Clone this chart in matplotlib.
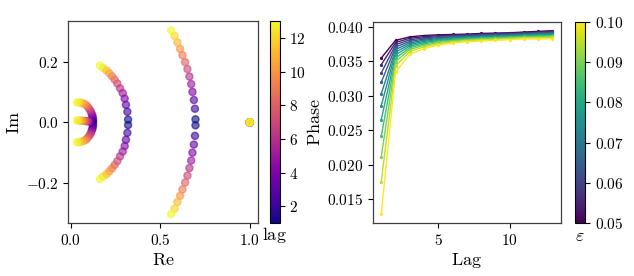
import numpy as np
import matplotlib
matplotlib.use("Agg")
import matplotlib.pyplot as plt
from matplotlib.ticker import FormatStrFormatter, FixedLocator

plt.rcParams['mathtext.fontset'] = 'cm'
plt.rcParams['font.family'] = 'serif'
plt.rcParams['font.size'] = 11
LABEL_SIZE = 13

### Data #######################################################################
lags = np.arange(1, 14)

# eigenvalues, upper half (conjugates mirrored), one per lag 1..13
outer_re = [0.697, 0.694, 0.688, 0.680, 0.673, 0.663, 0.652, 0.639, 0.624, 0.611, 0.596, 0.580, 0.561]
outer_im = [0.010, 0.045, 0.074, 0.101, 0.127, 0.152, 0.177, 0.200, 0.223, 0.244, 0.265, 0.287, 0.305]
middle_re = [0.320, 0.316, 0.308, 0.301, 0.290, 0.275, 0.260, 0.245, 0.230, 0.215, 0.200, 0.181, 0.163]
middle_im = [0.009, 0.035, 0.058, 0.079, 0.097, 0.113, 0.129, 0.142, 0.153, 0.163, 0.172, 0.180, 0.188]
inner_re = [0.124, 0.124, 0.122, 0.119, 0.115, 0.110, 0.104, 0.095, 0.086, 0.075, 0.062, 0.048, 0.034]
inner_im = [0.004, 0.011, 0.018, 0.024, 0.031, 0.038, 0.044, 0.051, 0.057, 0.061, 0.064, 0.066, 0.066]
spine_re = [0.120, 0.116, 0.111, 0.106, 0.100, 0.094, 0.087, 0.080, 0.072, 0.064, 0.055, 0.045, 0.034]
spine_im = [0.002, 0.002, 0.003, 0.003, 0.003, 0.004, 0.004, 0.004, 0.005, 0.005, 0.005, 0.006, 0.006]
unit_re = [1.0] * 13
unit_im = [0.0] * 13

# phase vs lag, one row per lag, one column per epsilon
epsilons = [0.050, 0.055, 0.060, 0.065, 0.070, 0.075, 0.080, 0.085, 0.090, 0.095, 0.100]
phase_by_lag = [
    [0.03544, 0.03448, 0.03328, 0.03194, 0.03026, 0.02853, 0.02652, 0.02412, 0.02114, 0.01754, 0.01284],
    [0.03800, 0.03768, 0.03736, 0.03703, 0.03667, 0.03630, 0.03588, 0.03542, 0.03492, 0.03427, 0.03340],
    [0.03850, 0.03830, 0.03808, 0.03785, 0.03763, 0.03740, 0.03718, 0.03693, 0.03668, 0.03638, 0.03600],
    [0.03870, 0.03853, 0.03836, 0.03819, 0.03802, 0.03785, 0.03766, 0.03748, 0.03729, 0.03707, 0.03680],
    [0.03880, 0.03867, 0.03853, 0.03840, 0.03826, 0.03813, 0.03798, 0.03784, 0.03769, 0.03751, 0.03730],
    [0.03885, 0.03874, 0.03862, 0.03851, 0.03840, 0.03829, 0.03816, 0.03805, 0.03793, 0.03778, 0.03760],
    [0.03890, 0.03880, 0.03870, 0.03860, 0.03850, 0.03841, 0.03830, 0.03820, 0.03809, 0.03795, 0.03780],
    [0.03900, 0.03890, 0.03880, 0.03870, 0.03860, 0.03851, 0.03840, 0.03830, 0.03819, 0.03805, 0.03790],
    [0.03905, 0.03896, 0.03886, 0.03877, 0.03867, 0.03858, 0.03847, 0.03838, 0.03827, 0.03815, 0.03800],
    [0.03910, 0.03901, 0.03892, 0.03883, 0.03874, 0.03865, 0.03855, 0.03846, 0.03836, 0.03824, 0.03810],
    [0.03920, 0.03911, 0.03902, 0.03893, 0.03884, 0.03875, 0.03865, 0.03856, 0.03846, 0.03834, 0.03820],
    [0.03930, 0.03920, 0.03910, 0.03900, 0.03891, 0.03881, 0.03870, 0.03860, 0.03850, 0.03837, 0.03820],
    [0.03940, 0.03930, 0.03919, 0.03909, 0.03899, 0.03889, 0.03877, 0.03867, 0.03856, 0.03842, 0.03825],
]

### Figure #####################################################################
W, H = 634, 276
fig = plt.figure(figsize=(W / 100, H / 100), dpi=100)

def box(x0, x1, y0, y1):
    # pixel box (from top-left) -> figure fraction
    return [x0 / W, 1 - y1 / H, (x1 - x0) / W, (y1 - y0) / H]

ax1 = fig.add_axes(box(68.3, 258.3, 21.3, 223.3))
cax1 = fig.add_axes(box(270, 279.5, 21.3, 223.3))
ax2 = fig.add_axes(box(372.7, 561, 21.5, 223.3))
cax2 = fig.add_axes(box(575, 585, 21.5, 223.3))

# left: eigenvalues coloured by lag
re_all, im_all, lag_all = [], [], []
for re, im in [(outer_re, outer_im), (middle_re, middle_im), (inner_re, inner_im)]:
    for sign in (1, -1):
        re_all += list(re)
        im_all += [sign * v for v in im]
        lag_all += list(lags)
re_all += spine_re + unit_re
im_all += spine_im + unit_im
lag_all += list(lags) + list(lags)
re_all, im_all, lag_all = np.array(re_all), np.array(im_all), np.array(lag_all)
order = np.argsort(lag_all, kind='stable')

sc = ax1.scatter(re_all[order], im_all[order], c=lag_all[order], cmap='plasma',
                 vmin=1, vmax=13, s=26, alpha=0.6)
ax1.set_xlabel(r'$\mathrm{Re}$', fontsize=LABEL_SIZE, labelpad=2)
ax1.set_ylabel(r'$\mathrm{Im}$', fontsize=LABEL_SIZE, labelpad=2)
ax1.xaxis.set_major_locator(FixedLocator([0.0, 0.5, 1.0]))
ax1.yaxis.set_major_locator(FixedLocator([-0.2, 0.0, 0.2]))
ax1.xaxis.set_major_formatter(FormatStrFormatter(r'$%.1f$'))
ax1.yaxis.set_major_formatter(FormatStrFormatter(r'$%.1f$'))

cb1 = fig.colorbar(sc, cax=cax1)
cb1.solids.set_alpha(1)
cb1.set_ticks([2, 4, 6, 8, 10, 12])
cb1.ax.yaxis.set_major_formatter(FormatStrFormatter(r'$%d$'))
cb1.ax.set_xlabel(r'$\mathrm{lag}$', fontsize=LABEL_SIZE, labelpad=1)
cb1.outline.set_linewidth(0.8)

# right: phase vs lag for each epsilon
phase = np.array(phase_by_lag).T
cmap = plt.get_cmap('viridis')
norm = plt.Normalize(0.05, 0.10)
for eps, row in zip(epsilons, phase):
    ax2.plot(lags, row, color=cmap(norm(eps)), lw=1.0, marker='o', ms=1.3)
ax2.set_xlabel(r'$\mathrm{Lag}$', fontsize=LABEL_SIZE, labelpad=2)
ax2.set_ylabel(r'$\mathrm{Phase}$', fontsize=LABEL_SIZE, labelpad=2)
ax2.xaxis.set_major_locator(FixedLocator([5, 10]))
ax2.xaxis.set_major_formatter(FormatStrFormatter(r'$%d$'))
ax2.yaxis.set_major_locator(FixedLocator([0.015, 0.020, 0.025, 0.030, 0.035, 0.040]))
ax2.yaxis.set_major_formatter(FormatStrFormatter(r'$%.3f$'))

sm = plt.cm.ScalarMappable(norm=norm, cmap=cmap)
cb2 = fig.colorbar(sm, cax=cax2)
cb2.set_ticks([0.05, 0.06, 0.07, 0.08, 0.09, 0.10])
cb2.ax.yaxis.set_major_formatter(FormatStrFormatter(r'$%.2f$'))
cb2.ax.set_xlabel(r'$\varepsilon$', fontsize=LABEL_SIZE, labelpad=3)
cb2.outline.set_linewidth(0.8)

for ax in (ax1, ax2):
    for sp in ax.spines.values():
        sp.set_color('0.25')
        sp.set_linewidth(0.9)

fig.savefig('out.png', dpi=100)
